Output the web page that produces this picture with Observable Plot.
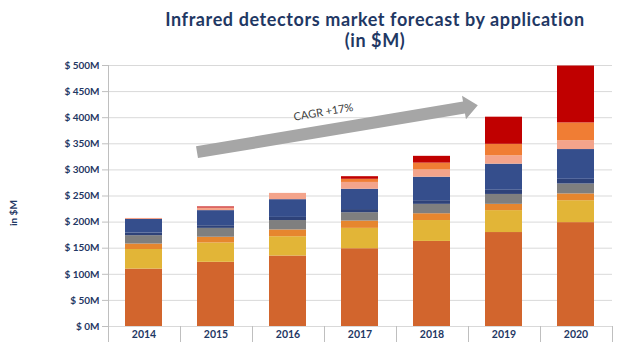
<!DOCTYPE html>
<html><head><meta charset="utf-8">
<script src="https://cdn.jsdelivr.net/npm/d3@7"></script>
<script src="https://cdn.jsdelivr.net/npm/@observablehq/plot@0.6"></script>
<style>
body{margin:0;background:#fff;width:618px;height:342px;overflow:hidden;font-family:Lato,"Open Sans",sans-serif}
#title{margin-left:132px;width:486px;text-align:center;color:#1F3864;font-weight:bold;font-size:18px;letter-spacing:0.6px;line-height:21px;padding-top:9px;height:46px;box-sizing:content-box;white-space:nowrap}
#chart svg{display:block}
</style></head><body>
<div id="title">Infrared detectors market forecast by application<br>(in $M)</div>
<div id="chart"></div>
<script>
// ---- data ----
const years = ["2014", "2015", "2016", "2017", "2018", "2019", "2020"];
const seriesNames = ["App 1", "App 2", "App 3", "App 4", "App 5", "App 6", "App 7", "App 8", "App 9"];
const app1 = [110, 123, 135, 149, 163, 180, 199];
const app2 = [37.5, 37, 37, 39, 40, 42, 42];
const app3 = [10.5, 11, 13, 14, 13, 12, 13];
const app4 = [16, 17, 18, 16, 18, 19, 19];
const app5 = [5, 5, 6, 6, 7, 8, 9];
const app6 = [26, 29, 34, 39, 45, 50, 57];
const app7 = [2, 5, 12, 13, 14, 16, 17];
const app8 = [0, 0, 0, 6, 13, 22, 34];
const app9 = [0, 2, 0, 5, 13, 52, 109];
const yTicks = [0, 50, 100, 150, 200, 250, 300, 350, 400, 450, 500];
const cagrLabel = "CAGR +17%";

// ---- styling / annotation placement ----
const colors = ["#D2652D", "#E2B537", "#E6862E", "#7F7F7F", "#2E4279", "#354E8C", "#F4A48B", "#F07D34", "#C00000"];
const arrowFrom = {t: 0.74, v: 333};   // t = year index position
const arrowTo = {t: 4.64, v: 423};
const navy = "#1F3864";
const pInner = 0.48;

const allSeries = [app1, app2, app3, app4, app5, app6, app7, app8, app9];
const data = [];
allSeries.forEach((vals, s) => vals.forEach((v, i) => data.push({year: years[i], series: seriesNames[s], value: v})));

function separators(index, scales, values, dims) {
  const {width, height, marginLeft, marginRight} = dims;
  const step = (width - marginLeft - marginRight) / years.length;
  const g = d3.create("svg:g").attr("stroke", "#BFBFBF").attr("stroke-width", 1);
  const y0 = scales.y(0), yTop = scales.y(yTicks[yTicks.length - 1]);
  for (let i = 0; i <= years.length; i++) {
    const x = Math.round(marginLeft + i * step) + 0.5;
    g.append("line").attr("x1", x).attr("x2", x).attr("y1", i === 0 ? yTop : y0).attr("y2", height);
  }
  return g.node();
}

function cagrArrow(index, scales) {
  const x = scales.x, y = scales.y;
  const step = x(years[1]) - x(years[0]);
  const bw = step * (1 - pInner);
  const px = t => x(years[0]) + bw / 2 + t * step;
  const x1 = px(arrowFrom.t), y1 = y(arrowFrom.v), x2 = px(arrowTo.t), y2 = y(arrowTo.v);
  const dx = x2 - x1, dy = y2 - y1, len = Math.hypot(dx, dy);
  const ux = dx / len, uy = dy / len, nx = -uy, ny = ux;
  const h = 6, H = 12, L = 14;
  const bx = x2 - ux * L, by = y2 - uy * L;
  const pts = [
    [x1 + nx * h, y1 + ny * h], [bx + nx * h, by + ny * h], [bx + nx * H, by + ny * H], [x2, y2],
    [bx - nx * H, by - ny * H], [bx - nx * h, by - ny * h], [x1 - nx * h, y1 - ny * h]
  ];
  const g = d3.create("svg:g");
  g.append("polygon").attr("points", pts.map(p => p.join(",")).join(" ")).attr("fill", "#A6A6A6");
  const mx = (x1 + bx) / 2 - 4 * ux, my = (y1 + by) / 2 - 4 * uy;
  const ang = Math.atan2(dy, dx) * 180 / Math.PI;
  g.append("text").attr("transform", `translate(${mx - nx * 15},${my - ny * 15}) rotate(${ang})`)
    .attr("text-anchor", "middle").attr("font-family", "Lato, sans-serif").attr("font-size", 11)
    .attr("fill", "#404040").text(cagrLabel);
  return g.node();
}

const chart = Plot.plot({
  width: 618, height: 287,
  marginLeft: 108, marginRight: 6, marginTop: 10, marginBottom: 16,
  style: {fontFamily: "Lato, sans-serif", background: "white"},
  x: {domain: years, paddingInner: pInner, paddingOuter: pInner / 2, axis: null, label: null},
  y: {domain: [0, 500], axis: null, label: null},
  color: {domain: seriesNames, range: colors},
  marks: [
    Plot.gridY(yTicks, {stroke: "#D9D9D9", strokeOpacity: 1}),
    Plot.barY(data, {x: "year", y: "value", fill: "series"}),
    Plot.axisY(yTicks, {tickFormat: d => `$ ${d}M`, tickSize: 6, tickPadding: 3, stroke: "#BFBFBF", fill: navy, fontWeight: "bold", fontSize: 10, label: null}),
    Plot.axisX({tickSize: 0, tickPadding: 4, fill: navy, fontWeight: "bold", fontSize: 10.5, label: null}),
    separators,
    cagrArrow,
    Plot.text(["in $M"], {frameAnchor: "left", dx: -95, dy: 30, rotate: -90, fill: navy, fontWeight: "bold", fontSize: 10})
  ]
});
document.getElementById("chart").appendChild(chart);
</script>
</body></html>
